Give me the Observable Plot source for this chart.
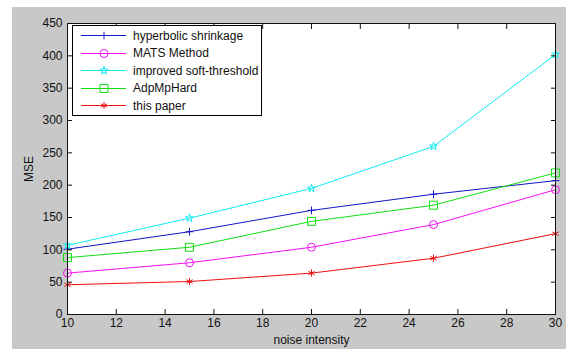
<!DOCTYPE html>
<html><head><meta charset="utf-8">
<script src="https://cdn.jsdelivr.net/npm/d3@7"></script>
<script src="https://cdn.jsdelivr.net/npm/@observablehq/plot@0.6"></script>
<style>
html,body{margin:0;padding:0;background:#fff;}
#wrap{position:relative;width:566px;height:349px;overflow:hidden;font-family:"Liberation Sans",Arial,sans-serif;}
#bg{position:absolute;left:12px;top:7px;right:0;bottom:0;background:#c8c8c8;}
#chart{position:absolute;left:0;top:0;}
#legend{position:absolute;left:72px;top:25px;width:190px;height:91px;box-sizing:border-box;border:1px solid #000;background:#fff;padding-top:1px;}
.row{display:flex;align-items:center;height:17.5px;font-size:12px;color:#111;}
.row svg{display:block;flex:none;}
.row span{margin-left:6px;white-space:nowrap;}
</style></head><body>
<div id="wrap"><div id="bg"></div><div id="chart"></div><div id="legend"></div></div>
<script>
const noise = [10, 15, 20, 25, 30];
const seriesNames = ["hyperbolic shrinkage", "MATS Method", "improved soft-threshold", "AdpMpHard", "this paper"];
const hyperbolic = [101, 128, 161, 186, 207];
const mats = [64, 80, 104, 139, 193];
const improved = [107, 149, 195, 260, 402];
const adpMpHard = [88, 104, 144, 169, 219];
const thisPaper = [46, 51, 64, 87, 125];
const xTicks = [10, 12, 14, 16, 18, 20, 22, 24, 26, 28, 30];
const yTicks = [0, 50, 100, 150, 200, 250, 300, 350, 400, 450];

const seriesValues = [hyperbolic, mats, improved, adpMpHard, thisPaper];
const colors = ["#1414c8", "#f010f0", "#10ecf0", "#10e010", "#f01010"];
const symbols = ["plus", "circle", "star", "square", "asterisk"];
const markerR = [2.6, 4, 2.5, 4.5, 3.4];

const marks = [Plot.frame({fill: "white"})];
seriesValues.forEach((vals, i) => {
  const data = noise.map((x, j) => ({x, y: vals[j], name: seriesNames[i]}));
  marks.push(Plot.line(data, {x: "x", y: "y", stroke: colors[i], strokeWidth: 1}));
  marks.push(Plot.dot(data, {x: "x", y: "y", stroke: colors[i], fill: "none", symbol: symbols[i], r: markerR[i], strokeWidth: 1}));
});
marks.push(
  Plot.axisX(xTicks, {anchor: "bottom", tickSize: -5, text: null, label: null, stroke: "#111"}),
  Plot.axisX(xTicks, {anchor: "top", tickSize: -5, text: null, label: null, stroke: "#111"}),
  Plot.axisY(yTicks, {anchor: "left", tickSize: -5, text: null, label: null, stroke: "#111"}),
  Plot.axisY(yTicks, {anchor: "right", tickSize: -5, text: null, label: null, stroke: "#111"}),
  Plot.axisX(xTicks, {anchor: "bottom", tickSize: 0, tickPadding: 4, fontSize: 12, fill: "#111", label: "noise intensity", labelAnchor: "center", labelOffset: 29, labelArrow: "none"}),
  Plot.axisY(yTicks, {anchor: "left", tickSize: 0, tickPadding: 5, fontSize: 12, fill: "#111", label: "MSE", labelAnchor: "center", labelOffset: 43, labelArrow: "none"}),
  Plot.frame({stroke: "#111"})
);

const chart = Plot.plot({
  width: 566, height: 349,
  marginLeft: 67, marginRight: 11, marginTop: 23, marginBottom: 35,
  style: {background: "transparent", fontFamily: "'Liberation Sans', Arial, sans-serif", fontSize: "12px", color: "#111"},
  x: {domain: [10, 30]},
  y: {domain: [0, 450]},
  marks
});
document.getElementById("chart").appendChild(chart);

// legend
const symMap = {plus: d3.symbolPlus, circle: d3.symbolCircle, star: d3.symbolStar, square: d3.symbolSquare, asterisk: d3.symbolAsterisk};
const legend = d3.select("#legend");
seriesNames.forEach((name, i) => {
  const row = legend.append("div").attr("class", "row");
  const svg = row.append("svg").attr("width", 54).attr("height", 17);
  svg.append("line").attr("x1", 8).attr("x2", 53).attr("y1", 8.5).attr("y2", 8.5).attr("stroke", colors[i]).attr("stroke-width", 1);
  svg.append("path").attr("transform", "translate(31,8.5)")
    .attr("d", d3.symbol(symMap[symbols[i]], Math.PI * markerR[i] * markerR[i])())
    .attr("fill", "none").attr("stroke", colors[i]).attr("stroke-width", 1);
  row.append("span").text(name);
});
</script>
</body></html>
